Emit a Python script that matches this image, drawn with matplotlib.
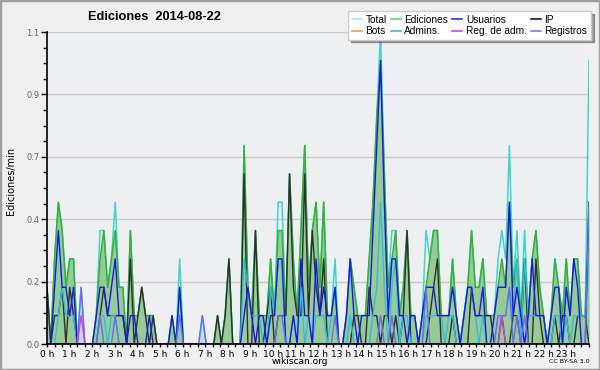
import numpy as np
import matplotlib
matplotlib.use("Agg")
import matplotlib.pyplot as plt
from matplotlib.lines import Line2D
from matplotlib.patches import Rectangle
from matplotlib.ticker import FixedLocator, MultipleLocator

# counts per 10-minute slot (144 slots), converted to actions per minute
total = [2,0,3,5,4,2,3,3,0,2,0,0,0,1,4,4,2,3,5,2,2,0,4,1,
         1,2,1,1,1,0,0,0,0,1,0,3,0,0,0,0,0,1,0,0,0,1,0,1,
         3,0,0,0,7,2,1,4,1,1,1,3,1,5,5,1,6,3,1,4,7,2,4,5,
         2,5,1,1,3,0,0,1,3,2,1,1,1,3,5,8,11,6,2,4,4,1,2,4,
         1,1,0,1,4,3,4,4,1,1,1,3,1,0,1,2,4,2,2,3,1,1,1,3,
         4,3,7,2,4,1,4,1,3,4,2,1,0,1,3,2,1,3,1,3,3,1,1,10]
ediciones = [2,0,3,5,4,2,3,3,0,0,0,0,0,1,3,4,2,3,4,2,2,0,4,1,
             1,2,1,1,1,0,0,0,0,1,0,2,0,0,0,0,0,0,0,0,0,1,0,1,
             3,0,0,0,7,2,1,4,1,1,1,3,1,4,4,1,6,3,1,4,7,2,4,5,
             2,5,1,1,2,0,0,1,3,2,1,1,1,3,5,8,10,6,2,3,4,1,2,4,
             1,1,0,1,2,3,4,4,1,1,1,3,1,0,1,2,4,2,2,3,1,1,1,2,
             3,2,5,2,3,1,3,1,3,4,2,1,0,1,3,2,1,3,1,3,3,1,1,5]
usuarios = [0,0,2,4,2,2,1,2,0,0,0,0,0,1,2,2,1,2,3,1,1,0,1,1,
            0,0,0,1,0,0,0,0,0,1,0,2,0,0,0,0,0,0,0,0,0,0,0,0,
            0,0,0,0,1,2,1,0,1,1,0,1,1,3,3,0,0,1,0,3,1,1,0,3,
            1,2,1,1,2,0,0,1,3,1,0,1,1,1,4,7,10,5,1,3,3,1,1,0,
            1,1,0,1,2,2,2,1,1,1,1,2,1,0,1,2,2,1,1,2,0,0,1,2,
            2,2,5,1,2,1,0,1,3,1,1,1,0,1,2,2,0,2,1,3,2,0,0,5]
ip = [2,0,1,1,2,0,2,1,0,0,0,0,0,0,1,2,1,1,1,1,1,0,3,0,
      1,2,1,0,1,0,0,0,0,0,0,0,0,0,0,0,0,0,0,0,0,1,0,1,
      3,0,0,0,6,0,0,4,0,0,1,2,0,1,1,1,6,2,1,1,6,1,4,2,
      1,3,0,0,0,0,0,0,0,1,1,0,0,2,1,1,0,1,1,0,1,0,1,4,
      0,0,0,0,0,1,2,3,0,0,0,1,0,0,0,0,2,1,1,1,1,1,0,0,
      1,0,0,1,1,0,3,0,0,3,1,0,0,0,1,0,1,1,0,0,1,1,1,0]
bots = [0] * 144
admins = [0,0,0,1,2,1,1,1,0,0,0,0,0,0,1,1,0,1,1,0,0,0,0,0,
          0,0,0,0,0,0,0,0,0,0,0,1,0,0,0,0,0,0,0,0,0,0,0,0,
          0,0,0,0,3,2,1,1,1,0,0,2,1,3,3,0,0,1,0,2,0,1,0,1,
          1,1,0,1,1,0,0,0,1,0,0,0,0,0,1,2,5,2,0,2,3,0,1,1,
          0,0,0,0,1,1,1,1,1,0,1,1,0,0,1,2,2,1,0,1,0,0,0,1,
          1,1,2,1,3,0,3,1,1,1,1,1,0,0,1,1,0,1,0,1,1,1,1,3]
reg_adm = [0,0,0,0,0,0,0,0,0,1,0,0,0,0,0,0,0,0,0,0,0,0,0,0,
           0,0,0,0,0,0,0,0,0,0,0,0,0,0,0,0,0,0,0,0,0,0,0,0,
           0,0,0,0,0,0,0,0,0,0,0,0,0,0,0,0,0,0,0,0,0,0,0,0,
           0,0,0,0,0,0,0,0,0,0,0,0,0,0,0,0,0,0,0,0,0,0,0,0,
           0,0,0,0,0,0,0,0,0,0,0,0,0,0,0,0,0,0,0,0,0,0,0,0,
           1,0,0,0,0,0,0,0,0,0,0,0,0,0,0,0,0,0,0,0,0,0,0,0]
registros = [0,0,0,0,0,0,0,0,0,2,0,0,0,0,1,0,0,0,1,0,0,0,0,0,
             0,0,0,0,0,0,0,0,0,0,0,1,0,0,0,0,0,1,0,0,0,0,0,0,
             0,0,0,0,0,0,0,0,0,0,0,0,0,1,1,0,0,0,0,0,0,0,0,0,
             0,0,0,0,1,0,0,0,0,0,0,0,0,0,0,0,1,0,0,1,0,0,0,0,
             0,0,0,0,2,0,0,0,0,0,0,0,0,0,0,0,0,0,0,0,0,0,0,1,
             1,1,2,0,1,0,1,0,0,0,0,0,0,0,0,0,0,0,0,0,0,0,0,5]

hour_labels = [f"{h} h" for h in range(24)]
title = "Ediciones  2014-08-22"
ylabel = "Ediciones/min"

slot_minutes = 10.0
x = np.linspace(0, 24, len(total))
def per_min(a):
    return np.asarray(a, dtype=float) / slot_minutes

fig = plt.figure(figsize=(6.0, 3.7), dpi=100, facecolor="#f0f0f0")
ax = fig.add_axes([47/600, 26/370, 542/600, 312/370])
ax.set_facecolor("#eeeff1")

c_total = "#3fd4cc"
c_ed_line = "#36b036"
c_ed_fill = "#96ca96"
c_users = "#1818e0"
c_ip = "#2e2e2e"
c_bots = "#f0a040"
c_adm = "#30bde0"
c_regadm = "#d040e0"
c_reg = "#6a6af2"

ax.plot(x, per_min(bots), color=c_bots, lw=1.0, zorder=1)
ax.fill_between(x, 0, per_min(registros), color="#c6d8ee", lw=0, zorder=2)
ax.fill_between(x, 0, per_min(ediciones), color=c_ed_fill, lw=0, zorder=2)
ax.plot(x, per_min(total), color=c_total, lw=1.1, zorder=3)
ax.plot(x, per_min(ediciones), color=c_ed_line, lw=1.1, zorder=4)
ax.plot(x, per_min(ip), color=c_ip, lw=1.0, zorder=5)
ax.plot(x, per_min(admins), color=c_adm, lw=1.0, zorder=6)
ax.plot(x, per_min(usuarios), color=c_users, lw=1.0, zorder=7)
ax.plot(x, per_min(registros), color=c_reg, lw=1.0, zorder=8)
ax.plot(x, per_min(reg_adm), color=c_regadm, lw=1.0, zorder=9)

ax.set_xlim(0, 24)
ax.set_ylim(0, 1.1)
yt = np.linspace(0, 1.1, 6)
ax.yaxis.set_major_locator(FixedLocator(yt))
ax.set_yticklabels([f"{v:.1f}" for v in yt])
ax.yaxis.set_minor_locator(MultipleLocator(0.055))
ax.xaxis.set_major_locator(FixedLocator(np.arange(24)))
ax.set_xticklabels(hour_labels)
ax.xaxis.set_minor_locator(MultipleLocator(1/3))
ax.grid(axis="y", which="major", color="#cbcbcb", lw=1.0, zorder=0)
ax.set_axisbelow(True)
for s in ["top", "right"]:
    ax.spines[s].set_visible(False)
for s in ["left", "bottom"]:
    ax.spines[s].set_color("black")
    ax.spines[s].set_linewidth(1.2)
    ax.spines[s].set_zorder(20)
ax.tick_params(axis="y", which="major", length=4.5, width=1.0, labelsize=6,
               labelcolor="#666666", pad=1)
ax.tick_params(axis="y", which="minor", length=3, width=1.0)
ax.tick_params(axis="x", which="both", length=2.5, width=1.0, labelsize=6.5,
               pad=1.5)

fig.text(0.257, 0.953, title, ha="center", va="center", fontsize=9.2,
         fontweight="bold", family="Liberation Sans")
fig.text(0.018, 0.51, ylabel, rotation=90, ha="center", va="center",
         fontsize=7)
fig.text(0.5, 0.022, "wikiscan.org", ha="center", va="center", fontsize=6.5)
fig.text(0.982, 0.022, "CC BY-SA 3.0", ha="right", va="center", fontsize=4.6)

handles = [Line2D([], [], color="#b0e6e6", lw=1.2),
           Line2D([], [], color=c_bots, lw=1.2),
           Line2D([], [], color="#7ccc7c", lw=1.2),
           Line2D([], [], color=c_adm, lw=1.2),
           Line2D([], [], color="#3030d8", lw=1.2),
           Line2D([], [], color=c_regadm, lw=1.2),
           Line2D([], [], color="#202020", lw=1.2),
           Line2D([], [], color="#7878ee", lw=1.2)]
labels = ["Total", "Bots", "Ediciones", "Admins.", "Usuarios",
          "Reg. de adm.", "IP", "Registros"]
leg = fig.legend(handles, labels, ncol=4, loc="upper right",
                 bbox_to_anchor=(0.985, 0.97),
                 prop={"family": "Liberation Sans", "size": 7.3},
                 handlelength=1.0, handletextpad=0.35, columnspacing=0.4,
                 labelspacing=0.15, borderpad=0.35, borderaxespad=0,
                 frameon=True, fancybox=False, shadow=True)
leg.get_frame().set_facecolor("white")
leg.get_frame().set_edgecolor("#cccccc")
leg.get_frame().set_linewidth(1.0)

fig.add_artist(Rectangle((0, 0), 1, 1, transform=fig.transFigure,
                         fill=False, edgecolor="#a0a0a0", lw=2.5))

fig.savefig("out.png", dpi=100, facecolor=fig.get_facecolor())
